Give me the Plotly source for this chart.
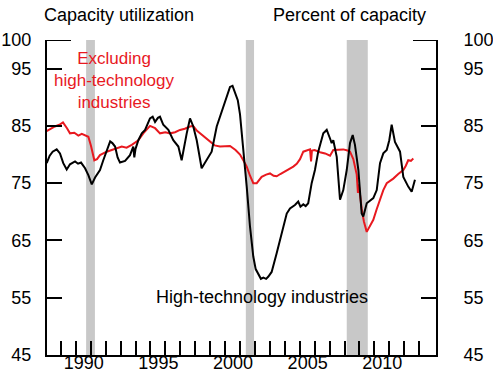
import plotly.graph_objects as go

# ---- data ----
hightech_year = [1987.05, 1987.25, 1987.45, 1987.72, 1987.94, 1988.16, 1988.39, 1988.61, 1988.95, 1989.15,
                 1989.35, 1989.62, 1989.84, 1990.07, 1990.29, 1990.62, 1990.84, 1991.07, 1991.30, 1991.45,
                 1991.63, 1991.80, 1991.96, 1992.30, 1992.63, 1992.85, 1992.92, 1993.00, 1993.19, 1993.42,
                 1993.64, 1993.97, 1994.15, 1994.31, 1994.50, 1994.64, 1994.86, 1995.20, 1995.53, 1995.87,
                 1996.09, 1996.43, 1996.65, 1996.87, 1997.10, 1997.43, 1997.77, 1998.10, 1998.44, 1998.77,
                 1999.00, 1999.33, 1999.50, 1999.67, 1999.85, 2000.00, 2000.22, 2000.45, 2000.67, 2000.89,
                 2001.05, 2001.23, 2001.40, 2001.56, 2001.75, 2001.90, 2002.12, 2002.46, 2002.79, 2003.13,
                 2003.35, 2003.68, 2003.90, 2004.05, 2004.24, 2004.40, 2004.57, 2004.80, 2005.02, 2005.24,
                 2005.58, 2005.81, 2006.03, 2006.14, 2006.25, 2006.48, 2006.70, 2006.92, 2007.15, 2007.37,
                 2007.55, 2007.70, 2007.93, 2008.15, 2008.26, 2008.49, 2008.93, 2009.16, 2009.38, 2009.60,
                 2009.83, 2010.00, 2010.16, 2010.38, 2010.72, 2010.94, 2011.27, 2011.50, 2011.72]
hightech_val = [78.5, 79.8, 80.5, 80.9, 80.2, 78.5, 77.4, 78.3, 78.8, 78.4,
                78.6, 77.6, 76.4, 74.8, 76.0, 77.3, 79.0, 80.8, 82.3, 82.0,
                81.4, 79.5, 78.6, 78.9, 79.9, 81.4, 79.5, 81.0, 82.5, 83.7,
                84.3, 86.3, 86.6, 85.7, 86.4, 86.6, 85.2, 84.3, 82.5, 81.4,
                79.0, 83.7, 86.3, 84.9, 82.5, 77.6, 79.0, 80.5, 84.9, 87.5,
                89.5, 91.8, 92.0, 90.7, 89.5, 87.0, 81.4, 74.4, 67.4, 62.2,
                60.0, 59.0, 58.3, 58.5, 58.3, 58.7, 59.5, 62.8, 66.2, 69.7,
                70.6, 71.2, 71.8, 70.9, 71.3, 71.0, 71.5, 75.0, 77.3, 80.5,
                83.7, 84.3, 82.8, 82.0, 82.5, 79.6, 72.1, 73.8, 77.3, 82.0,
                83.4, 81.7, 77.3, 69.7, 69.2, 71.5, 72.4, 73.8, 78.5, 80.2,
                80.8, 82.5, 85.2, 82.2, 80.5, 76.1, 74.4, 73.5, 75.6]

excl_year = [1987.05, 1987.30, 1987.60, 1987.90, 1988.14, 1988.41, 1988.61, 1988.90, 1989.17, 1989.40,
             1989.62, 1989.84, 1990.02, 1990.24, 1990.42, 1990.62, 1991.07, 1991.41, 1991.75, 1992.08,
             1992.40, 1992.75, 1993.19, 1993.52, 1993.97, 1994.31, 1994.64, 1995.00, 1995.31, 1995.65,
             1995.98, 1996.30, 1996.65, 1996.85, 1997.10, 1997.32, 1997.65, 1997.99, 1998.30, 1998.66,
             1999.00, 1999.33, 1999.70, 2000.00, 2000.22, 2000.45, 2000.67, 2000.89, 2001.12, 2001.45,
             2001.75, 2002.01, 2002.25, 2002.46, 2002.70, 2002.90, 2003.25, 2003.57, 2003.80, 2004.02,
             2004.24, 2004.50, 2004.69, 2004.76, 2004.82, 2005.00, 2005.36, 2005.70, 2006.03, 2006.25,
             2006.60, 2006.92, 2007.20, 2007.37, 2007.59, 2007.82, 2007.90, 2007.96, 2008.15, 2008.30,
             2008.49, 2008.70, 2008.93, 2009.15, 2009.38, 2009.60, 2009.83, 2010.05, 2010.27, 2010.60,
             2010.94, 2011.10, 2011.27, 2011.45, 2011.61]
excl_val = [84.1, 84.5, 84.9, 85.2, 85.6, 84.6, 83.7, 83.8, 83.3, 83.6,
            83.4, 83.1, 81.5, 79.0, 79.2, 79.9, 80.5, 80.8, 81.0, 81.4,
            81.2, 81.7, 82.5, 83.7, 85.0, 84.6, 83.7, 83.9, 83.7, 83.9,
            84.3, 84.5, 84.9, 85.0, 84.2, 83.7, 83.0, 82.2, 81.6, 81.4,
            81.5, 81.5, 80.8, 80.0, 79.0, 77.9, 76.3, 75.0, 75.0, 76.1,
            76.5, 76.7, 76.3, 76.2, 76.6, 76.9, 77.3, 77.9, 78.4, 79.2,
            80.5, 80.7, 80.9, 78.8, 80.7, 80.8, 80.4, 80.2, 79.8, 80.8,
            80.9, 80.9, 80.7, 80.5, 79.2, 76.5, 73.3, 74.8, 70.5, 68.3,
            66.5, 67.5, 68.6, 70.4, 72.1, 73.8, 75.0, 75.4, 75.8, 76.6,
            77.3, 78.0, 79.0, 78.9, 79.3]

recessions = [(1989.69, 1990.28), (2000.39, 2000.94), (2007.15, 2008.56)]

y_ticks = [45, 55, 65, 75, 85, 95, 100]
y_ticklabels = ["45", "55", "65", "75", "85", "95", "100"]
x_tick_years = list(range(1988, 2013))
x_label_years = [1990, 1995, 2000, 2005, 2010]

FONT = "Liberation Sans, Arial, sans-serif"
RED = "#e8191f"
X_RANGE = [1987.07, 2013.13]

fig = go.Figure()
fig.add_trace(go.Scatter(x=excl_year, y=excl_val, mode="lines",
                         line=dict(color=RED, width=2), hoverinfo="skip", showlegend=False))
fig.add_trace(go.Scatter(x=hightech_year, y=hightech_val, mode="lines",
                         line=dict(color="black", width=2), hoverinfo="skip", showlegend=False))
# empty traces so the label axis (x2) and the right axis (y2) are built
fig.add_trace(go.Scatter(x=[None], y=[None], yaxis="y2", showlegend=False, hoverinfo="skip"))
fig.add_trace(go.Scatter(x=[None], y=[None], xaxis="x2", showlegend=False, hoverinfo="skip"))

for a, b in recessions:
    fig.add_shape(type="rect", xref="x", yref="paper", x0=a, x1=b, y0=0, y1=1,
                  fillcolor="#c8c8c8", line=dict(width=0), layer="below")

# longer caps at 100
fig.add_shape(type="line", xref="paper", yref="y", x0=0, x1=24/389, y0=100, y1=100,
              line=dict(color="black", width=2))
fig.add_shape(type="line", xref="paper", yref="y", x0=1-23/389, x1=1, y0=100, y1=100,
              line=dict(color="black", width=2))

axis_common = dict(range=[45, 100], tickvals=y_ticks, ticktext=y_ticklabels,
                   ticks="inside", ticklen=15, tickwidth=2, tickcolor="black",
                   showline=True, linewidth=2, linecolor="black", showgrid=False, zeroline=False,
                   automargin=False,
                   tickfont=dict(family=FONT, size=18, color="black"), fixedrange=True)

fig.update_layout(
    width=493, height=380,
    margin=dict(l=47, r=57, t=40, b=25, autoexpand=False),
    plot_bgcolor="white", paper_bgcolor="white",
    font=dict(family=FONT, size=18, color="black"),
    # bottom axis: line and a tick every year, no labels
    xaxis=dict(range=X_RANGE, tickmode="array", tickvals=x_tick_years,
               showticklabels=False,
               ticks="inside", ticklen=14, tickwidth=2, tickcolor="black",
               showline=True, linewidth=2, linecolor="black", showgrid=False, zeroline=False,
               automargin=False, fixedrange=True),
    # same scale, carries the year labels (placed a little left of their ticks)
    xaxis2=dict(range=X_RANGE, overlaying="x", anchor="y", side="bottom",
                tickmode="array", tickvals=x_label_years,
                ticktext=[str(v) for v in x_label_years],
                ticks="", showline=False, showgrid=False, zeroline=False,
                automargin=False, ticklabelshift=-7, ticklabelstandoff=-5,
                tickfont=dict(family=FONT, size=18, color="black"), fixedrange=True),
    yaxis=dict(side="left", ticklabelstandoff=10, **axis_common),
    yaxis2=dict(side="right", overlaying="y", anchor="x", ticklabelstandoff=22, **axis_common),
)

ann = [
    dict(text="Capacity utilization", x=-5/389, y=(355-15)/315, xanchor="left", size=18),
    dict(text="Percent of capacity", x=(428-47)/389, y=(355-15)/315, xanchor="right", size=18),
    dict(text="Excluding<br>high-technology<br>industries", x=(114-47)/389, y=(355-80.5)/315,
         xanchor="center", color=RED, size=17),
    dict(text="High-technology industries", x=(261.7-47)/389, y=(355-296.7)/315, xanchor="center", size=18),
]
for a in ann:
    fig.add_annotation(xref="paper", yref="paper", x=a["x"], y=a["y"], text=a["text"],
                       xanchor=a["xanchor"], yanchor="middle", showarrow=False, align="center",
                       font=dict(family=FONT, size=a["size"], color=a.get("color", "black")))

fig.write_html("out.html", config={"displayModeBar": False},
               post_script="document.body.style.margin='0px';")
